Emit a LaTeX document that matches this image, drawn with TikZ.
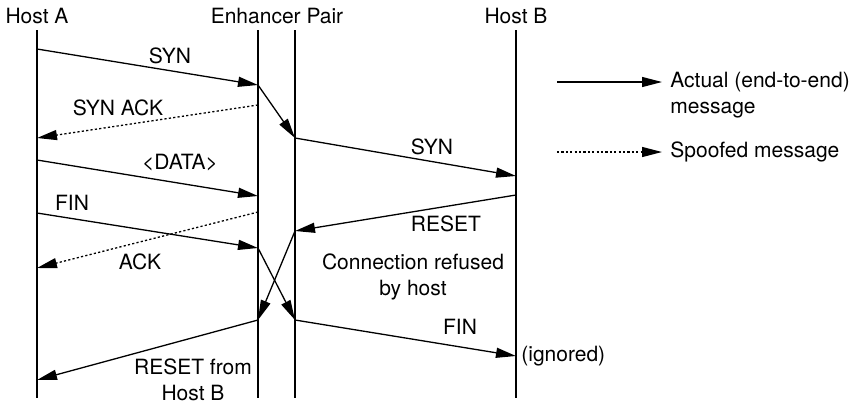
\documentclass[tikz,border=0pt]{standalone}
\usepackage{fontspec}
\setmainfont{TeX Gyre Heros}
\usetikzlibrary{arrows.meta}

\begin{document}
\begin{tikzpicture}[x=0.5pt,y=-0.5pt,
  life/.style={black,line width=1.35pt},
  msg/.style={black,line width=0.65pt,-{Triangle[length=10pt,width=5pt]}},
  spoof/.style={msg,dash pattern=on 1.1pt off 1.1pt},
  lbl/.style={font=\fontsize{10.5}{13}\selectfont,align=center,inner sep=0pt}]
\useasboundingbox (0,0) rectangle (857,403);
% lifelines
\coordinate (A0) at (37,30);
\coordinate (A9) at (37,398);
\coordinate (L0) at (258,30);
\coordinate (L9) at (258,398);
\coordinate (R0) at (295,30);
\coordinate (R9) at (295,398);
\coordinate (B0) at (516,30);
\coordinate (B9) at (516,398);
\draw[life] (A0)--(A9);
\draw[life] (L0)--(L9);
\draw[life] (R0)--(R9);
\draw[life] (B0)--(B9);
\node[lbl] (hostA) at (37,16) {Host A};
\node[lbl] (pair) at (277,16) {Enhancer Pair};
\node[lbl] (hostB) at (516,16) {Host B};
% message end points
\coordinate (a1) at (37,49);
\coordinate (a2) at (37,138);
\coordinate (a3) at (37,160);
\coordinate (a4) at (37,213);
\coordinate (a5) at (37,268);
\coordinate (a6) at (37,380);
\coordinate (l1) at (258,85);
\coordinate (l2) at (258,105);
\coordinate (l3) at (258,196);
\coordinate (l4) at (258,248);
\coordinate (l5) at (258,212);
\coordinate (l6) at (258,320);
\coordinate (r1) at (295,138);
\coordinate (r2) at (295,231);
\coordinate (r3) at (295,320);
\coordinate (b1) at (516,176);
\coordinate (b2) at (516,195);
\coordinate (b3) at (516,356);
% messages
\draw[msg] (a1)--(l1);
\draw[msg] (l1)--(r1);
\draw[spoof] (l2)--(a2);
\draw[msg] (r1)--(b1);
\draw[msg] (a3)--(l3);
\draw[msg] (a4)--(l4);
\draw[spoof] (l5)--(a5);
\draw[msg] (b2)--(r2);
\draw[msg] (l4)--(r3);
\draw[msg] (r2)--(l6);
\draw[msg] (r3)--(b3);
\draw[msg] (l6)--(a6);
% labels
\node[lbl] (syn1) at (170,56) {SYN};
\node[lbl] (synack) at (118,108) {SYN ACK};
\node[lbl] (syn2) at (432,147) {SYN};
\node[lbl] (data) at (180,163) {<DATA>};
\node[lbl] (fin1) at (72,203) {FIN};
\node[lbl] (ack) at (140,262) {ACK};
\node[lbl] (reset) at (446,224) {RESET};
\node[lbl] (refused) at (413,277) {Connection refused\\by host};
\node[lbl] (fin2) at (460,327) {FIN};
\node[lbl,anchor=west] (ignored) at (521,356) {(ignored)};
\node[lbl] (resetB) at (193,380) {RESET from\\Host B};
% legend
\coordinate (k1) at (557,82);
\coordinate (k2) at (662,82);
\coordinate (k3) at (557,152);
\coordinate (k4) at (662,152);
\draw[msg] (k1)--(k2);
\draw[spoof] (k3)--(k4);
\node[lbl,align=left,anchor=west] (actual) at (670,95.5) {Actual (end-to-end)\\message};
\node[lbl,anchor=west] (spoofed) at (670,152) {Spoofed message};
\end{tikzpicture}
\end{document}
